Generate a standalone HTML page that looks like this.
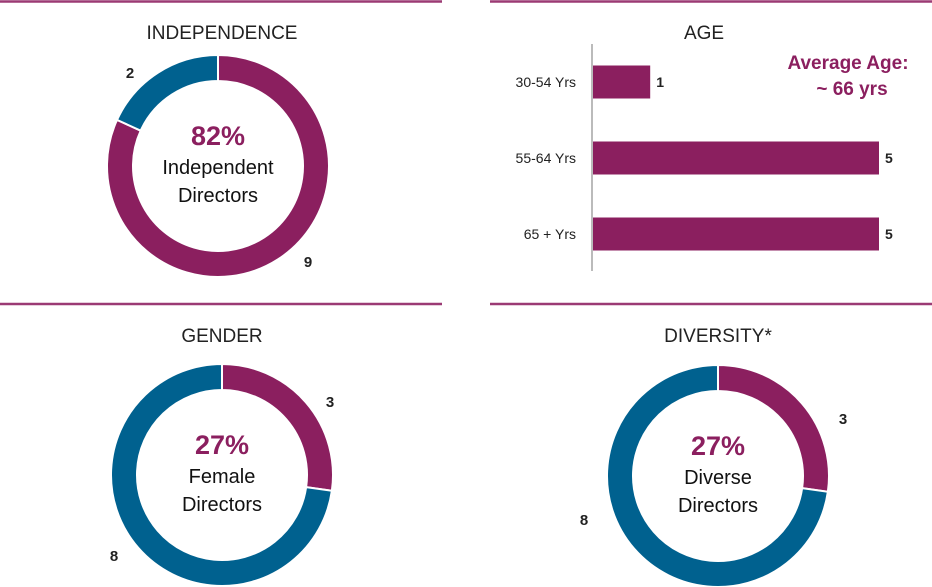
<!DOCTYPE html>
<html><head><meta charset="utf-8"><style>
html,body{margin:0;padding:0;background:#fff;width:932px;height:587px;overflow:hidden}
svg text{font-family:"Liberation Sans",sans-serif}
</style></head><body>
<svg id="s" width="932" height="587" viewBox="0 0 932 587">
<line x1="0" y1="1.5" x2="442" y2="1.5" stroke="#9b3a74" stroke-width="2.5"/>
<line x1="490" y1="1.5" x2="932" y2="1.5" stroke="#9b3a74" stroke-width="2.5"/>
<line x1="0" y1="304" x2="442" y2="304" stroke="#9b3a74" stroke-width="2.5"/>
<line x1="490" y1="304" x2="932" y2="304" stroke="#9b3a74" stroke-width="2.5"/>
<text x="222" y="39" text-anchor="middle" font-size="19" fill="#222">INDEPENDENCE</text>
<text x="704" y="39" text-anchor="middle" font-size="19" fill="#222">AGE</text>
<text x="222" y="342" text-anchor="middle" font-size="19" fill="#222">GENDER</text>
<text x="718" y="342" text-anchor="middle" font-size="19" fill="#222">DIVERSITY*</text>
<text x="848" y="69" text-anchor="middle" font-size="19" font-weight="bold" fill="#8b1f5f">Average Age:</text>
<text x="852" y="95" text-anchor="middle" font-size="19" font-weight="bold" fill="#8b1f5f">~ 66 yrs</text>
</svg>
<script>
const PURPLE='#8b1f5f',BLUE='#00618f';
const ageCategories=['30-54 Yrs','55-64 Yrs','65 + Yrs'];
const ageValues=[1,5,5];
const independenceValues=[9,2];
const genderValues=[3,8];
const diversityValues=[3,8];
const NS='http://www.w3.org/2000/svg';
const svg=document.getElementById('s');
function mk(t,a){const e=document.createElementNS(NS,t);for(const k in a)e.setAttribute(k,a[k]);svg.appendChild(e);return e;}
function pt(cx,cy,r,a){return [cx+r*Math.sin(a),cy-r*Math.cos(a)];}
function arc(cx,cy,R,r,a0,a1){
 const [x0,y0]=pt(cx,cy,R,a0),[x1,y1]=pt(cx,cy,R,a1),[x2,y2]=pt(cx,cy,r,a1),[x3,y3]=pt(cx,cy,r,a0);
 const lg=(a1-a0)>Math.PI?1:0;
 return `M${x0},${y0}A${R},${R} 0 ${lg} 1 ${x1},${y1}L${x2},${y2}A${r},${r} 0 ${lg} 0 ${x3},${y3}Z`;
}
function donut(name,cx,cy,vals,cols,labels,center){
 const tot=vals.reduce((a,b)=>a+b,0);let a=0;
 vals.forEach((v,i)=>{
  const a1=a+v/tot*2*Math.PI;
  const p=mk('path',{d:arc(cx,cy,111,85,a,a1),fill:cols[i],stroke:'#fff','stroke-width':2});
  
  
  const t=mk('text',{x:labels[i][0],y:labels[i][1],'font-size':15,'font-weight':'bold',fill:'#222','text-anchor':'middle'});
  t.textContent=v;
  
  
  a=a1;
 });
 const pct=Math.round(vals[center.idx]/tot*100);
 const t1=mk('text',{x:cx,y:cy-21,'font-size':27,'font-weight':'bold',fill:PURPLE,'text-anchor':'middle'});
 t1.textContent=pct+'%';
 
 
 center.lines.forEach((l,i)=>{
  const t=mk('text',{x:cx,y:cy+8+i*28,'font-size':20,fill:'#111','text-anchor':'middle'});
  t.textContent=l;
  
  
 });
}
donut('independence',218,166,independenceValues,[PURPLE,BLUE],[[308,267],[130,78]],{idx:0,lines:['Independent','Directors']});
donut('gender',222,475,genderValues,[PURPLE,BLUE],[[330,407],[114,561]],{idx:0,lines:['Female','Directors']});
donut('diversity',718,476,diversityValues,[PURPLE,BLUE],[[843,424],[584,525]],{idx:0,lines:['Diverse','Directors']});
const x0=593,unit=57.2,bandTop=44,band=76,barH=33;
const ax=mk('line',{x1:592,y1:44,x2:592,y2:271,stroke:'#bbb','stroke-width':2});


ageCategories.forEach((c,i)=>{
 const yc=bandTop+band*i+38;
 const w=ageValues[i]*unit;
 const r=mk('rect',{x:x0,y:yc-barH/2,width:w,height:barH,fill:PURPLE});
 
 
 const l=mk('text',{x:576,y:yc+5,'font-size':14,fill:'#222','text-anchor':'end'});
 l.textContent=c;
 
 
 const v=mk('text',{x:x0+w+6,y:yc+5,'font-size':14,'font-weight':'bold',fill:'#222'});
 v.textContent=ageValues[i];
 
 
});
</script>
</body></html>
